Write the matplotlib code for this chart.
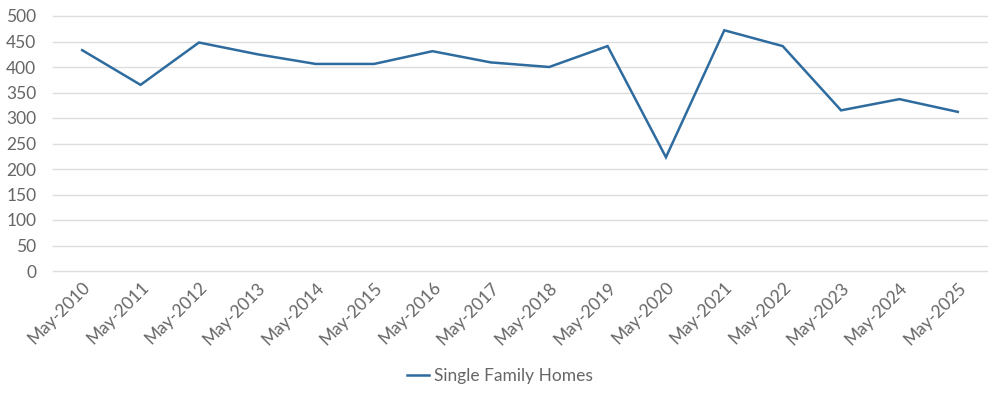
import matplotlib
matplotlib.use("Agg")
import matplotlib.pyplot as plt

categories = ["May-2010", "May-2011", "May-2012", "May-2013", "May-2014", "May-2015",
              "May-2016", "May-2017", "May-2018", "May-2019", "May-2020", "May-2021",
              "May-2022", "May-2023", "May-2024", "May-2025"]
single_family = [433, 365, 448, 425, 406, 406, 431, 409, 400, 441, 223, 472, 441, 315, 337, 312]
y_ticks = [0, 50, 100, 150, 200, 250, 300, 350, 400, 450, 500]

plt.rcParams['font.family'] = ['Lato', 'DejaVu Sans']
text_color = '#666666'
line_color = '#2E6B9E'

fig = plt.figure(figsize=(10, 3.96), dpi=100)
ax = fig.add_axes([0.053, 1 - 271/396, 0.934, (271 - 16)/396])

x = list(range(len(categories)))
ax.plot(x, single_family, color=line_color, lw=1.8, label="Single Family Homes",
        solid_joinstyle='miter')

ax.set_xlim(-0.5, len(categories) - 0.5)
ax.set_ylim(0, 500)
ax.set_yticks(y_ticks)
ax.set_yticklabels([str(v) for v in y_ticks])
ax.set_xticks(x)
ax.set_xticklabels(categories, rotation=45, ha='right', rotation_mode='anchor')

ax.grid(axis='y', color='#DDDDDD', lw=1)
for gl in ax.get_ygridlines():
    gl.set_clip_on(False)
ax.set_axisbelow(True)
for s in ax.spines.values():
    s.set_visible(False)
ax.tick_params(axis='both', length=0, colors=text_color, labelsize=12.5)
ax.tick_params(axis='y', pad=12)
ax.tick_params(axis='x', pad=6)

leg = fig.legend(loc='center', bbox_to_anchor=(0.5, 1 - 376/396), frameon=False,
                 fontsize=12.5, handlelength=1.3, handletextpad=0.3)
for t in leg.get_texts():
    t.set_color(text_color)

fig.savefig("out.png", dpi=100)
